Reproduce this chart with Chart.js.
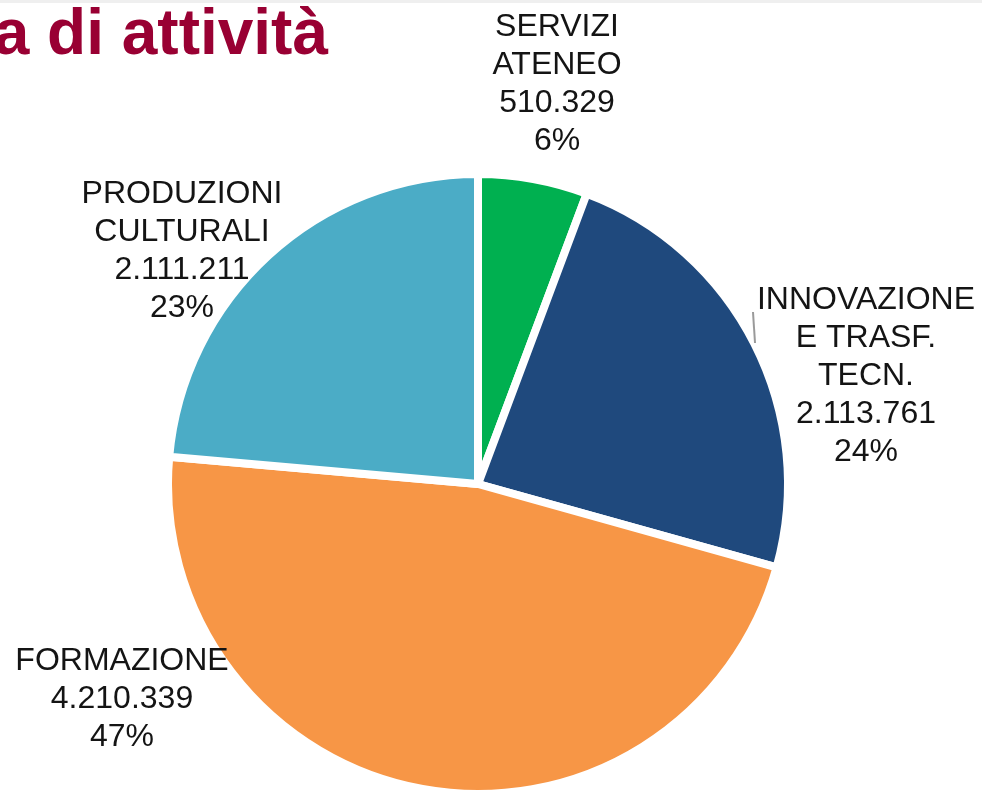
<!DOCTYPE html>
<html lang="it">

<head>
    <meta charset="UTF-8">
    <title>Ripartizione per area di attività</title>
    <script src="https://cdn.jsdelivr.net/npm/chart.js@4.4.1/dist/chart.umd.min.js"></script>
    <style>
        body {
            margin: 0;
            background: #fff;
        }

        .chart-wrapper {
            position: relative;
            width: 982px;
            height: 791px;
        }
    </style>
</head>

<body>
    <div class="chart-wrapper">
        <canvas id="pieChart"></canvas>
    </div>

    <script>
        // Data (clockwise from 12 o'clock)
        const categories = [
            ['SERVIZI', 'ATENEO'],
            ['INNOVAZIONE', 'E TRASF.', 'TECN.'],
            ['FORMAZIONE'],
            ['PRODUZIONI', 'CULTURALI']
        ];
        const amounts = [510329, 2113761, 4210339, 2111211];
        const percentLabels = ['6%', '24%', '47%', '23%'];
        const sliceColors = ['#00b050', '#1f497d', '#f79646', '#4bacc6'];

        // Label placement, relative to the pie centre (first baseline, centred text)
        const labelOffsets = [[79, -448], [388, -175], [-296, -281], [-356, 186]];
        const LINE_HEIGHT = 38;

        function formatAmount(v) {
            return String(v).replace(/\B(?=(\d{3})+(?!\d))/g, '.');
        }

        const labelPlugin = {
            id: 'sliceLabels',
            afterDraw(chart) {
                const ctx = chart.ctx;
                const arcs = chart.getDatasetMeta(0).data;
                const cx = arcs[0].x;
                const cy = arcs[0].y;

                ctx.save();

                // faint rule along the top edge
                ctx.fillStyle = '#efefef';
                ctx.fillRect(0, 0, chart.width, 3);

                // title (cut off at the left edge like the slide)
                ctx.fillStyle = '#990033';
                ctx.font = 'bold 64px "Liberation Sans", Arial, sans-serif';
                ctx.textAlign = 'right';
                ctx.textBaseline = 'alphabetic';
                ctx.fillText('a di attività', 328, 54);

                // slice labels
                ctx.fillStyle = '#141414';
                ctx.font = '32px "Liberation Sans", Arial, sans-serif';
                ctx.textAlign = 'center';
                // labels drawn in the order: servizi, innovazione, produzioni, formazione
                const order = [0, 1, 3, 2];
                order.forEach((idx, k) => {
                    const lines = categories[idx].concat([formatAmount(amounts[idx]), percentLabels[idx]]);
                    const [dx, dy] = labelOffsets[k];
                    lines.forEach((line, i) => {
                        ctx.fillText(line, cx + dx, cy + dy + i * LINE_HEIGHT);
                    });
                });

                // small leader tick next to the innovazione label
                ctx.strokeStyle = '#9a9a9a';
                ctx.lineWidth = 2;
                ctx.beginPath();
                ctx.moveTo(cx + 275, cy - 172);
                ctx.lineTo(cx + 277, cy - 141);
                ctx.stroke();

                ctx.restore();
            }
        };

        new Chart(document.getElementById('pieChart'), {
            type: 'pie',
            data: {
                labels: categories,
                datasets: [{
                    data: amounts,
                    backgroundColor: sliceColors,
                    borderColor: '#ffffff',
                    borderWidth: 8,
                    hoverOffset: 0,
                    clip: false
                }]
            },
            options: {
                responsive: true,
                maintainAspectRatio: false,
                animation: false,
                radius: 310,
                layout: {
                    padding: { left: 172, right: 198, top: 177, bottom: 0 }
                },
                plugins: {
                    legend: { display: false },
                    tooltip: { enabled: false }
                }
            },
            plugins: [labelPlugin]
        });
    </script>
</body>

</html>
